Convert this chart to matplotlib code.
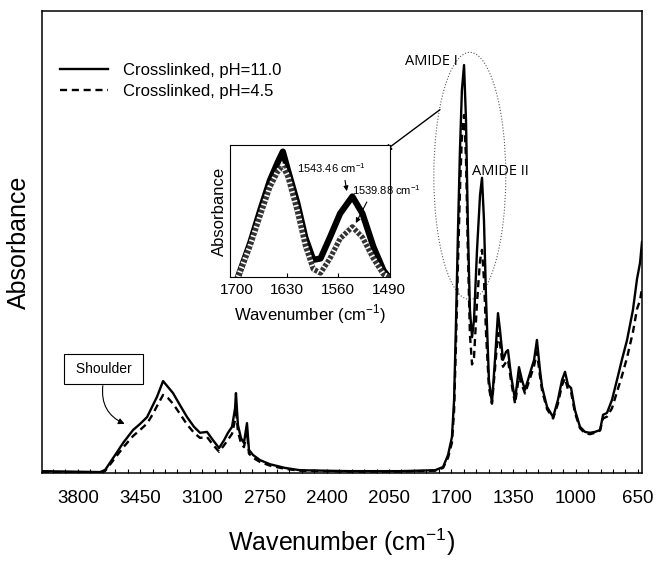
import matplotlib
matplotlib.use("Agg")
import matplotlib.pyplot as plt
from matplotlib.patches import Ellipse
from matplotlib.ticker import FixedLocator

plt.rcParams['font.family'] = ['Liberation Sans', 'DejaVu Sans']

# FTIR spectra (wavenumber in cm-1, absorbance in arbitrary units)
wavenumber = [4002, 3676, 3648, 3620, 3580, 3546, 3490, 3451, 3411, 3378, 3355, 3321, 3293,
              3265, 3226, 3186, 3147, 3113, 3074, 3040, 3006, 2978, 2956, 2933, 2916, 2911,
              2900, 2883, 2866, 2849, 2838, 2815, 2776, 2720, 2635, 2551, 2270, 1988, 1791,
              1746, 1718, 1696, 1684, 1673, 1662, 1651, 1640, 1628, 1617, 1606, 1595, 1583,
              1572, 1555, 1538, 1527, 1516, 1504, 1488, 1471, 1454, 1437, 1426, 1409, 1392,
              1381, 1364, 1341, 1319, 1302, 1285, 1257, 1234, 1218, 1201, 1189, 1161, 1144,
              1127, 1100, 1077, 1060, 1043, 1026, 1004, 976, 948, 920, 891, 863, 846, 824,
              796, 768, 740, 711, 678, 655, 638, 627]

abs_ph11 = [0.004, 0.002, 0.006, 0.022, 0.045, 0.065, 0.093, 0.106, 0.121, 0.147, 0.165, 0.199, 0.186,
            0.173, 0.147, 0.121, 0.100, 0.087, 0.089, 0.071, 0.054, 0.071, 0.087, 0.100, 0.140, 0.173,
            0.104, 0.076, 0.065, 0.108, 0.050, 0.039, 0.028, 0.019, 0.011, 0.006, 0.004, 0.004, 0.006,
            0.013, 0.039, 0.078, 0.158, 0.331, 0.526, 0.699, 0.829, 0.883, 0.764, 0.526, 0.353, 0.294,
            0.331, 0.483, 0.602, 0.639, 0.548, 0.374, 0.201, 0.152, 0.245, 0.346, 0.310, 0.245, 0.262,
            0.266, 0.212, 0.158, 0.229, 0.201, 0.180, 0.216, 0.245, 0.288, 0.223, 0.186, 0.143, 0.132,
            0.121, 0.158, 0.201, 0.219, 0.190, 0.184, 0.136, 0.100, 0.089, 0.087, 0.089, 0.093, 0.126, 0.130,
            0.158, 0.201, 0.245, 0.288, 0.353, 0.420, 0.455, 0.500]

abs_ph45 = [0.002, 0.000, 0.004, 0.018, 0.038, 0.055, 0.080, 0.093, 0.107, 0.128, 0.145, 0.169, 0.162,
            0.150, 0.128, 0.105, 0.087, 0.076, 0.078, 0.061, 0.046, 0.060, 0.072, 0.085, 0.115, 0.141,
            0.090, 0.065, 0.056, 0.090, 0.042, 0.033, 0.024, 0.016, 0.009, 0.005, 0.003, 0.003, 0.005,
            0.011, 0.033, 0.066, 0.135, 0.285, 0.455, 0.610, 0.730, 0.775, 0.680, 0.470, 0.300, 0.235,
            0.250, 0.370, 0.460, 0.483, 0.420, 0.300, 0.185, 0.150, 0.225, 0.303, 0.280, 0.230, 0.240,
            0.245, 0.200, 0.150, 0.210, 0.190, 0.172, 0.205, 0.232, 0.262, 0.210, 0.178, 0.138, 0.128,
            0.118, 0.150, 0.190, 0.205, 0.180, 0.175, 0.130, 0.097, 0.086, 0.084, 0.087, 0.092, 0.118, 0.122,
            0.140, 0.175, 0.210, 0.250, 0.305, 0.355, 0.374, 0.400]

# inset: amide region zoom
inset_wn = [1698, 1681, 1667, 1654, 1643, 1636, 1629, 1616, 1605, 1594, 1584, 1571, 1557, 1540,
            1526, 1511, 1497, 1490]
inset_ph11 = [0.0, 0.26, 0.51, 0.73, 0.87, 0.95, 0.81, 0.56, 0.30, 0.13, 0.14, 0.30, 0.48, 0.61,
              0.48, 0.23, 0.05, 0.0]
inset_ph45 = [0.0, 0.24, 0.47, 0.68, 0.80, 0.84, 0.76, 0.50, 0.24, 0.06, 0.03, 0.14, 0.29, 0.38,
              0.30, 0.14, 0.02, 0.0]

main_ticks = [3800, 3450, 3100, 2750, 2400, 2050, 1700, 1350, 1000, 650]
inset_ticks = [1700, 1630, 1560, 1490]
labels = ['Crosslinked, pH=11.0', 'Crosslinked, pH=4.5']

fig = plt.figure(figsize=(6.56, 5.61), dpi=100)
ax = fig.add_axes([42 / 656, 88 / 561, 600 / 656, 462 / 561])

ax.plot(wavenumber, abs_ph11, color='k', lw=1.7, label=labels[0])
ax.plot(wavenumber, abs_ph45, color='k', lw=1.7, ls=(0, (3, 2)), label=labels[1])
ax.set_xlim(4002, 627)
ax.set_ylim(0, 1.0)
ax.set_xticks(main_ticks)
ax.xaxis.set_minor_locator(FixedLocator([3940 - 70 * i for i in range(47)]))
ax.tick_params(axis='x', which='both', direction='in', length=3, width=0.8,
               labelsize=13.5, pad=12)
ax.tick_params(axis='y', left=False, labelleft=False)
for s in ax.spines.values():
    s.set_linewidth(1.1)
ax.set_xlabel('Wavenumber (cm$^{\\mathregular{-1}}$)', fontsize=18, labelpad=14)
ax.set_ylabel('Absorbance', fontsize=18, labelpad=8)

ax.legend(loc='upper left', bbox_to_anchor=(0.03, 0.888), frameon=False, fontsize=12,
          handlelength=2.9, handletextpad=0.9, labelspacing=0.35, borderaxespad=0, borderpad=0)

# amide ellipse + labels
ax.add_patch(Ellipse((0.713, 0.643), 0.12, 0.535, transform=ax.transAxes, fill=False,
                     ls=':', lw=0.8, ec='0.35'))
ax.text(0.693, 0.89, 'AMIDE I', transform=ax.transAxes, ha='right', va='center',
        fontsize=10.5, family=['Open Sans', 'DejaVu Sans'])
ax.text(0.717, 0.652, 'AMIDE II', transform=ax.transAxes, ha='left', va='center',
        fontsize=10.5, family=['Open Sans', 'DejaVu Sans'])
ax.annotate('', xy=(0.567, 0.693), xytext=(0.667, 0.79), xycoords='axes fraction',
            textcoords='axes fraction',
            arrowprops=dict(arrowstyle='-|>', color='k', lw=1, mutation_scale=10))

# shoulder label
ax.text(0.103, 0.225, ' Shoulder ', transform=ax.transAxes, ha='center', va='center', fontsize=10,
        bbox=dict(boxstyle='square,pad=0.55', fc='white', ec='k', lw=0.8))
ax.annotate('', xy=(0.142, 0.104), xytext=(0.102, 0.195), xycoords='axes fraction',
            textcoords='axes fraction',
            arrowprops=dict(arrowstyle='-|>', color='k', lw=0.8, mutation_scale=9,
                            connectionstyle='arc3,rad=0.4'))

# inset
ax2 = fig.add_axes([230 / 656, 284 / 561, 160 / 656, 132 / 561])
ax2.plot(inset_wn, inset_ph11, color='k', lw=4.5)
ax2.plot(inset_wn, inset_ph45, color='0.2', lw=3.8)
ax2.plot(inset_wn, inset_ph45, color='white', lw=3.8, ls=(0, (0.3, 0.6)))
ax2.set_xlim(1709, 1488)
ax2.set_ylim(0, 1.0)
ax2.set_xticks(inset_ticks)
ax2.tick_params(axis='x', direction='in', length=3, labelsize=11, pad=4)
ax2.tick_params(axis='y', left=False, labelleft=False)
ax2.set_xlabel('Wavenumber (cm$^{\\mathregular{-1}}$)', fontsize=12, labelpad=4)
ax2.set_ylabel('Absorbance', fontsize=12, labelpad=2)
ax2.annotate('1543.46 cm$^{\\mathregular{-1}}$', xy=(1547, 0.63), xytext=(1616, 0.826), fontsize=8,
             va='center', annotation_clip=False,
             arrowprops=dict(arrowstyle='-|>', color='k', lw=0.8, mutation_scale=7,
                             relpos=(0.68, 0.0)))
ax2.annotate('1539.88 cm$^{\\mathregular{-1}}$', xy=(1537, 0.39), xytext=(1540, 0.66), fontsize=8,
             va='center', annotation_clip=False,
             arrowprops=dict(arrowstyle='-|>', color='k', lw=0.8, mutation_scale=7,
                             relpos=(0.25, 0.0)))

fig.savefig('out.png', dpi=100)
